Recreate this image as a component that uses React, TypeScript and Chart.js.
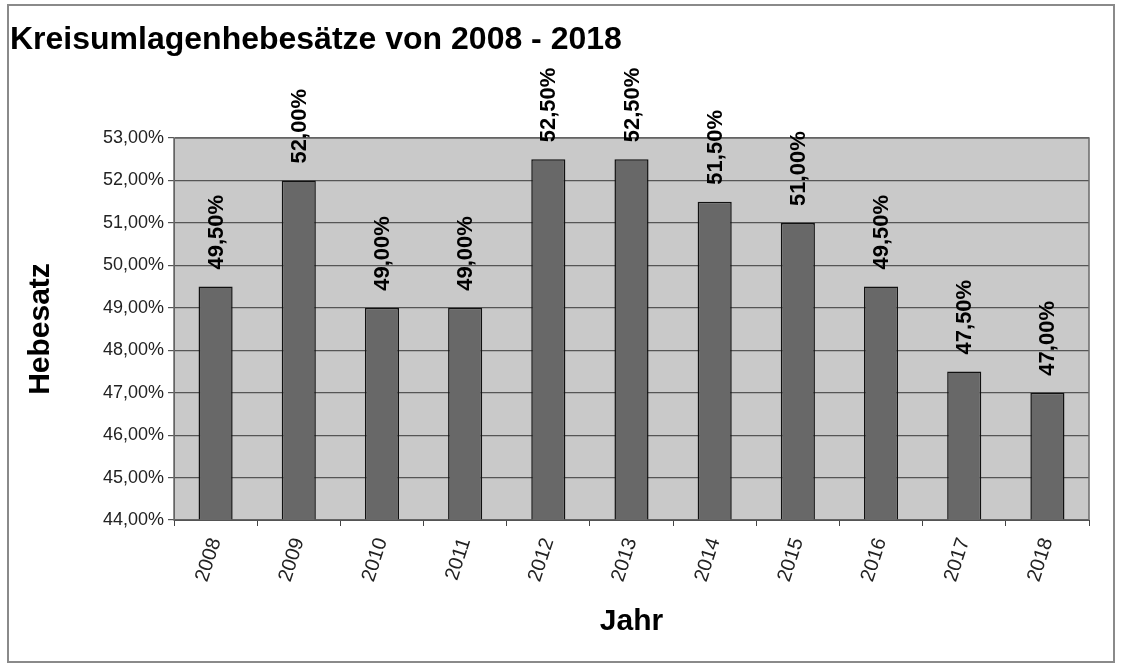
import React, { useEffect, useRef } from "react";
import { Chart, registerables } from "chart.js";

Chart.register(...registerables);

const years = ["2008", "2009", "2010", "2011", "2012", "2013", "2014", "2015", "2016", "2017", "2018"];
const rates = [49.5, 52.0, 49.0, 49.0, 52.5, 52.5, 51.5, 51.0, 49.5, 47.5, 47.0];
const yMin = 44;
const yMax = 53;
const titleText = "Kreisumlagenhebesätze von 2008 - 2018";
const yTitle = "Hebesatz";
const xTitle = "Jahr";

const FONT = "'Liberation Sans', Arial, sans-serif";
const fmt = (v: number) => v.toFixed(2).replace(".", ",") + "%";

const decorPlugin = {
  id: "decor",
  beforeDraw(chart: any) {
    const { ctx, chartArea, width, height } = chart;
    ctx.save();
    ctx.fillStyle = "#ffffff";
    ctx.fillRect(0, 0, width, height);
    ctx.strokeStyle = "#8a8a8a";
    ctx.lineWidth = 2;
    ctx.strokeRect(8, 5, 1106, 657);
    ctx.fillStyle = "#c9c9c9";
    ctx.fillRect(chartArea.left, chartArea.top, chartArea.right - chartArea.left, chartArea.bottom - chartArea.top);
    ctx.fillStyle = "#000";
    ctx.font = `bold 32px ${FONT}`;
    ctx.textAlign = "left";
    ctx.textBaseline = "alphabetic";
    ctx.fillText(titleText, 10, 49);
    ctx.restore();
  },
  afterDatasetsDraw(chart: any) {
    const { ctx, chartArea } = chart;
    ctx.save();
    ctx.strokeStyle = "#6a6a6a";
    ctx.lineWidth = 1.5;
    ctx.strokeRect(chartArea.left, chartArea.top, chartArea.right - chartArea.left, chartArea.bottom - chartArea.top);
    const meta = chart.getDatasetMeta(0);
    ctx.fillStyle = "#000";
    ctx.font = `bold 22px ${FONT}`;
    ctx.textAlign = "left";
    ctx.textBaseline = "middle";
    meta.data.forEach((bar: any, i: number) => {
      ctx.save();
      ctx.translate(bar.x + 1, bar.y - 17);
      ctx.rotate(-Math.PI / 2);
      ctx.fillText(fmt(rates[i]), 0, 0);
      ctx.restore();
    });
    ctx.restore();
  },
};

export default function App() {
  const ref = useRef<HTMLCanvasElement>(null);
  useEffect(() => {
    if (!ref.current) return;
    const chart = new Chart(ref.current, {
      type: "bar",
      data: {
        labels: years,
        datasets: [
          {
            data: rates,
            backgroundColor: "#686868",
            borderColor: "#111111",
            borderWidth: 1.5,
            barPercentage: 0.41,
            categoryPercentage: 1,
          },
        ],
      },
      options: {
        animation: false,
        responsive: true,
        maintainAspectRatio: false,
        layout: { padding: { top: 138, right: 33, left: 0, bottom: 0 } },
        plugins: {
          legend: { display: false },
          title: { display: false },
          tooltip: { enabled: false },
        },
        scales: {
          y: {
            min: yMin,
            max: yMax,
            afterFit: (s: any) => {
              s.width = 174;
            },
            ticks: {
              stepSize: 1,
              color: "#222",
              padding: 4,
              font: { family: FONT, size: 18 },
              callback: (v: any) => fmt(Number(v)),
            },
            grid: { color: "#555555", lineWidth: 1.2, tickLength: 6, drawTicks: true },
            border: { display: true, color: "#555" },
            title: {
              display: true,
              text: yTitle,
              color: "#000",
              padding: { top: 23, bottom: 0 },
              font: { family: FONT, size: 30, weight: "bold" },
            },
          },
          x: {
            afterFit: (s: any) => {
              s.height = 148;
            },
            ticks: {
              minRotation: 72,
              maxRotation: 72,
              color: "#222",
              padding: 9,
              font: { family: FONT, size: 20 },
            },
            grid: { display: true, drawOnChartArea: false, drawTicks: true, tickLength: 6, color: "#444", offset: true },
            border: { display: true, color: "#111" },
            title: {
              display: true,
              text: xTitle,
              color: "#000",
              padding: { top: 0, bottom: 28 },
              font: { family: FONT, size: 30, weight: "bold" },
            },
          },
        },
      },
      plugins: [decorPlugin],
    });
    return () => chart.destroy();
  }, []);
  return (
    <div style={{ position: "absolute", left: 0, top: 0, width: 1122, height: 668 }}>
      <canvas ref={ref} />
    </div>
  );
}
